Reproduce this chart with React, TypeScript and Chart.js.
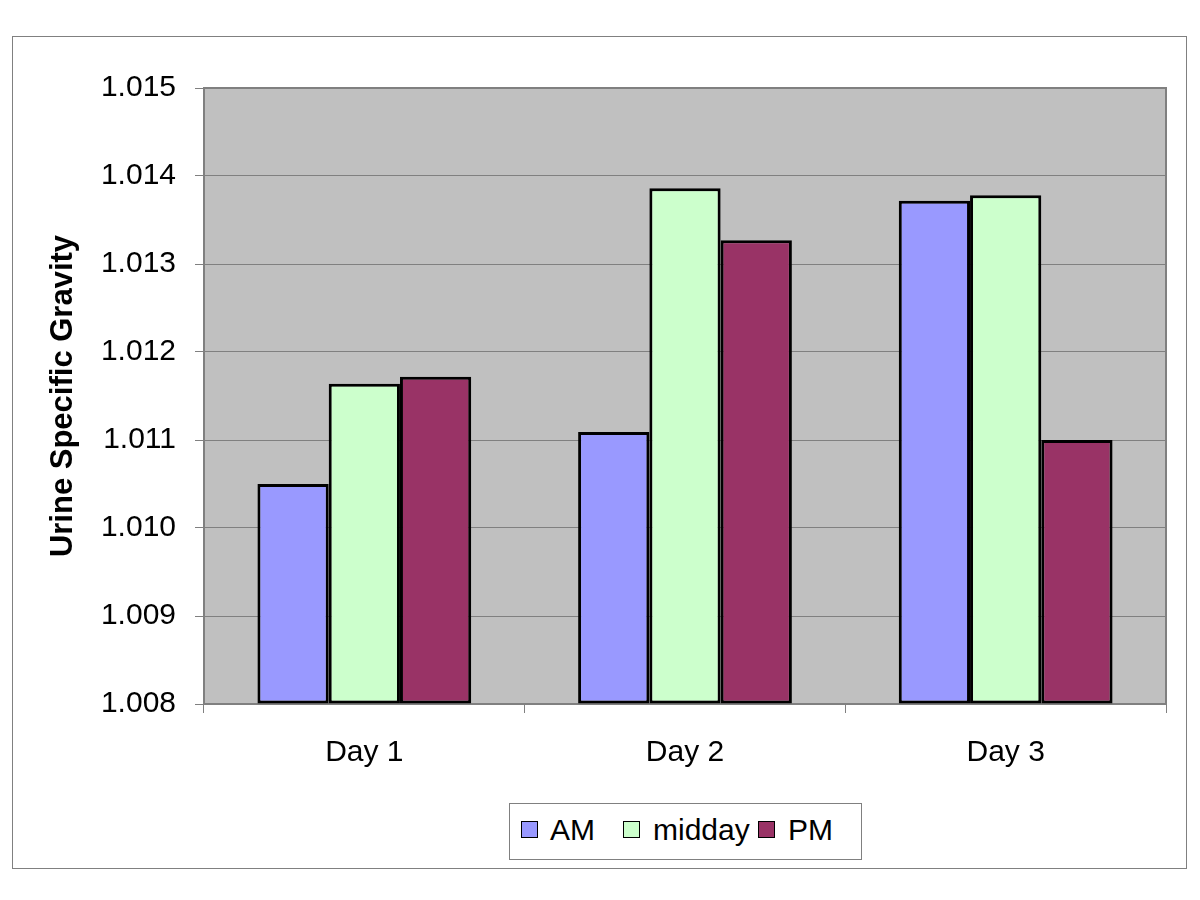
import React, { useEffect, useRef } from "react";
import { Chart, registerables } from "chart.js";

Chart.register(...registerables);

const categories = ["Day 1", "Day 2", "Day 3"];
const seriesNames = ["AM", "midday", "PM"];
const amValues = [1.0105, 1.01109, 1.01372];
const middayValues = [1.01164, 1.01386, 1.01378];
const pmValues = [1.01172, 1.01327, 1.011];
const seriesColors = ["#9999FF", "#CCFFCC", "#993366"];
const yMin = 1.008;
const yMax = 1.015;
const yStep = 0.001;

const FONT = "'Liberation Sans', Arial, sans-serif";

const plotBgPlugin = {
  id: "plotBg",
  beforeDraw(chart: any) {
    const { ctx, chartArea } = chart;
    ctx.save();
    ctx.fillStyle = "#C0C0C0";
    ctx.fillRect(chartArea.left, chartArea.top, chartArea.right - chartArea.left, chartArea.bottom - chartArea.top);
    ctx.restore();
  },
  beforeDatasetsDraw(chart: any) {
    const { ctx, chartArea } = chart;
    ctx.save();
    ctx.strokeStyle = "#808080";
    ctx.lineWidth = 2;
    ctx.strokeRect(chartArea.left, chartArea.top, chartArea.right - chartArea.left, chartArea.bottom - chartArea.top);
    ctx.restore();
  },
};

export default function App() {
  const canvasRef = useRef<HTMLCanvasElement | null>(null);

  useEffect(() => {
    if (!canvasRef.current) return;
    const values = [amValues, middayValues, pmValues];
    const chart = new Chart(canvasRef.current, {
      type: "bar",
      data: {
        labels: categories,
        datasets: seriesNames.map((name, i) => ({
          label: name,
          data: values[i],
          backgroundColor: seriesColors[i],
          borderColor: "#000000",
          borderWidth: 3,
          borderSkipped: false,
          base: yMin,
          categoryPercentage: 3 / 4.5,
          barPercentage: 1,
        })),
      },
      options: {
        responsive: false,
        animation: false,
        devicePixelRatio: 1,
        layout: { padding: { left: 0, top: 88, right: 34, bottom: 100 } },
        plugins: {
          legend: { display: false },
          tooltip: { enabled: false },
        },
        scales: {
          x: {
            offset: true,
            grid: {
              display: true,
              drawOnChartArea: false,
              drawTicks: true,
              tickLength: 9,
              color: "#808080",
              lineWidth: 1,
            },
            border: { display: false },
            ticks: {
              color: "#000000",
              font: { family: FONT, size: 30 },
              padding: 22,
            },
            afterFit(scale: any) {
              scale.height = 96;
            },
          },
          y: {
            min: yMin,
            max: yMax,
            grid: {
              color: "#808080",
              lineWidth: 1,
              tickLength: 9,
            },
            border: { display: false },
            ticks: {
              stepSize: yStep,
              color: "#000000",
              font: { family: FONT, size: 30 },
              padding: 19,
              callback: (v: any) => Number(v).toFixed(3),
            },
            title: {
              display: true,
              text: "Urine Specific Gravity",
              color: "#000000",
              font: { family: FONT, size: 31, weight: "bold" },
              padding: { top: 45, bottom: 0 },
            },
            afterFit(scale: any) {
              scale.width = 204;
            },
          },
        },
      },
      plugins: [plotBgPlugin],
    });
    return () => chart.destroy();
  }, []);

  const legendItems = [
    { name: seriesNames[0], sq: 521, tx: 550 },
    { name: seriesNames[1], sq: 623, tx: 653 },
    { name: seriesNames[2], sq: 758, tx: 788 },
  ];

  return (
    <div style={{ position: "absolute", left: 0, top: 0, width: 1200, height: 900, background: "#fff" }}>
      <div
        style={{
          position: "absolute",
          left: 12,
          top: 36,
          width: 1175,
          height: 833,
          border: "1px solid #808080",
          boxSizing: "border-box",
        }}
      />
      <canvas ref={canvasRef} width={1200} height={900} style={{ position: "absolute", left: 0, top: 0, width: 1200, height: 900 }} />
      <div
        style={{
          position: "absolute",
          left: 509,
          top: 803,
          width: 353,
          height: 57,
          border: "1px solid #808080",
          boxSizing: "border-box",
          background: "#fff",
        }}
      />
      {legendItems.map((it, i) => (
        <React.Fragment key={it.name}>
          <div
            style={{
              position: "absolute",
              left: it.sq,
              top: 821,
              width: 17,
              height: 17,
              background: seriesColors[i],
              border: "1.5px solid #000",
              boxSizing: "border-box",
            }}
          />
          <div
            style={{
              position: "absolute",
              left: it.tx,
              top: 812,
              fontFamily: FONT,
              fontSize: 30,
              lineHeight: "36px",
              color: "#000",
              whiteSpace: "nowrap",
            }}
          >
            {it.name}
          </div>
        </React.Fragment>
      ))}
    </div>
  );
}
